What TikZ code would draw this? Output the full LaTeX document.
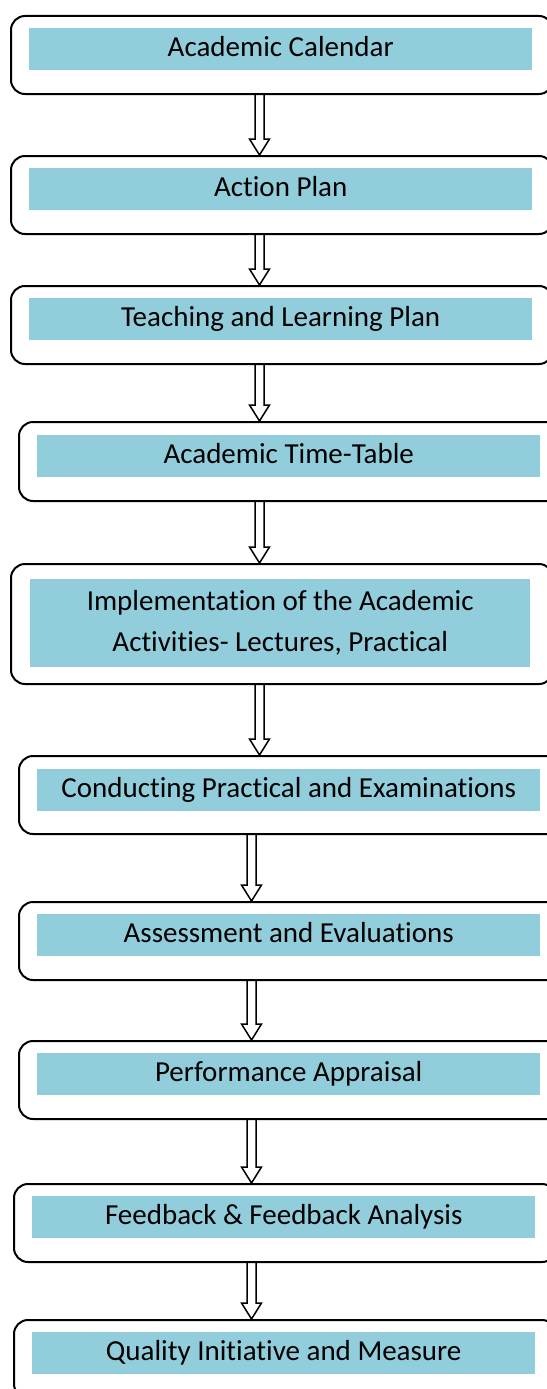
\documentclass[tikz,border=0pt]{standalone}
\usepackage{fontspec}
\setmainfont{Carlito}[Ligatures={NoCommon,NoContextual}]
\usetikzlibrary{calc}
\definecolor{aqua}{HTML}{92CDDC}
\tikzset{
  outerbox/.style={draw=black, line width=2pt, rounded corners=14pt, rectangle, inner sep=0pt, anchor=north west},
  bluebox/.style={fill=aqua, rectangle, inner sep=0pt, anchor=north west, minimum height=42pt, font=\fontsize{29}{41}\selectfont},
  oneline/.style={bluebox, text height=21.6pt, text depth=7pt},
  arrowline/.style={draw=black, line width=1.5pt, line join=miter}
}
\newcommand\blockarrow[3]{%
  \draw[arrowline] let \p1=(#2.south), \p2=(#3.north) in
    (#1pt-4.5pt,\y1) -- (#1pt-4.5pt,\y2+16pt) -- (#1pt-10pt,\y2+16pt) -- (#1pt,\y2)
    -- (#1pt+10pt,\y2+16pt) -- (#1pt+4.5pt,\y2+16pt) -- (#1pt+4.5pt,\y1);}
\begin{document}
\begin{tikzpicture}[x=1pt,y=-1pt]
\useasboundingbox[fill=white] (0,0) rectangle (546,1389);
% outer boxes
\node[outerbox, minimum width=542pt, minimum height=78pt] (b1) at (10,15) {};
\node[outerbox, minimum width=542pt, minimum height=78pt] (b2) at (10,155) {};
\node[outerbox, minimum width=542pt, minimum height=78pt] (b3) at (10,285) {};
\node[outerbox, minimum width=542pt, minimum height=79pt] (b4) at (18,421) {};
\node[outerbox, minimum width=542pt, minimum height=120pt] (b5) at (10,563) {};
\node[outerbox, minimum width=542pt, minimum height=78pt] (b6) at (18,755) {};
\node[outerbox, minimum width=542pt, minimum height=78pt] (b7) at (18,901) {};
\node[outerbox, minimum width=542pt, minimum height=78pt] (b8) at (18,1040) {};
\node[outerbox, minimum width=542pt, minimum height=78pt] (b9) at (13,1183) {};
\node[outerbox, minimum width=542pt, minimum height=78pt] (b10) at (13,1319) {};
% inner blue labels
\node[oneline, minimum width=503pt] (t1) at (29,28) {Academic Calendar};
\node[oneline, minimum width=503pt] (t2) at (29,168) {Action Plan};
\node[oneline, minimum width=503pt] (t3) at (29,298) {Teaching and Learning Plan};
\node[oneline, minimum width=503pt] (t4) at (37,435) {Academic Time-Table};
\node[bluebox, minimum width=500pt, minimum height=88pt] (t5) at (30,579) {\raisebox{4.5pt}{\begin{tabular}{@{}c@{}}Implementation of the Academic\\Activities- Lectures, Practical\end{tabular}}};
\node[oneline, minimum width=503pt] (t6) at (37,769) {Conducting Practical and Examinations};
\node[oneline, minimum width=503pt] (t7) at (37,914) {Assessment and Evaluations};
\node[oneline, minimum width=503pt] (t8) at (37,1053) {Performance Appraisal};
\node[oneline, minimum width=503pt] (t9) at (32,1196) {Feedback \& Feedback Analysis};
\node[oneline, minimum width=503pt] (t10) at (32,1332) {Quality Initiative and Measure};
% block arrows
\blockarrow{259.5}{b1}{b2}
\blockarrow{259.5}{b2}{b3}
\blockarrow{259.5}{b3}{b4}
\blockarrow{259.5}{b4}{b5}
\blockarrow{259.5}{b5}{b6}
\blockarrow{251.5}{b6}{b7}
\blockarrow{251.5}{b7}{b8}
\blockarrow{251.5}{b8}{b9}
\blockarrow{251.5}{b9}{b10}
\end{tikzpicture}
\end{document}
